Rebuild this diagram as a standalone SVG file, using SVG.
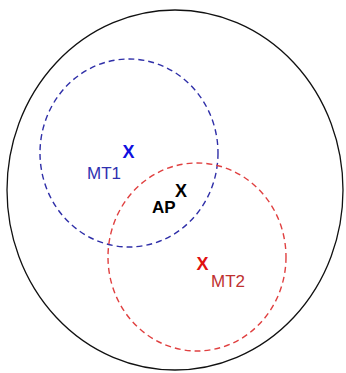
<svg xmlns="http://www.w3.org/2000/svg" width="346" height="373" viewBox="0 0 346 373">
<style>
.bg{fill:#ffffff}
.outer{fill:none;stroke:#111111;stroke-width:1.3}
.cov{fill:none;stroke-width:1.4;stroke-dasharray:6 4}
.blue{stroke:#2f2fa8}
.red{stroke:#e04040}
.mark{font-family:"Liberation Sans",Arial,sans-serif;font-weight:bold;font-size:18px;text-anchor:middle}
.lbl{font-family:"Liberation Sans",Arial,sans-serif;font-size:17px}
</style>
<rect class="bg" x="0" y="0" width="346" height="373"/>
<g id="cell">
<ellipse class="outer" cx="175" cy="190" rx="168" ry="180"/>
</g>
<g id="coverage">
<ellipse class="cov blue" cx="129" cy="153" rx="89" ry="94"/>
<ellipse class="cov red" cx="197" cy="257" rx="89" ry="94"/>
</g>
<g id="MT1">
<text class="mark" x="128.5" y="157.5" fill="#1010e0">X</text>
<text class="lbl" x="87" y="179" fill="#3030b0">MT1</text>
</g>
<g id="AP">
<text class="mark" x="181" y="197" fill="#000000">X</text>
<text class="lbl" x="152" y="212.5" font-weight="bold" font-size="18" fill="#000000">AP</text>
</g>
<g id="MT2">
<text class="mark" x="202.5" y="269.5" fill="#e01010">X</text>
<text class="lbl" x="211" y="287" fill="#c03030">MT2</text>
</g>
</svg>
